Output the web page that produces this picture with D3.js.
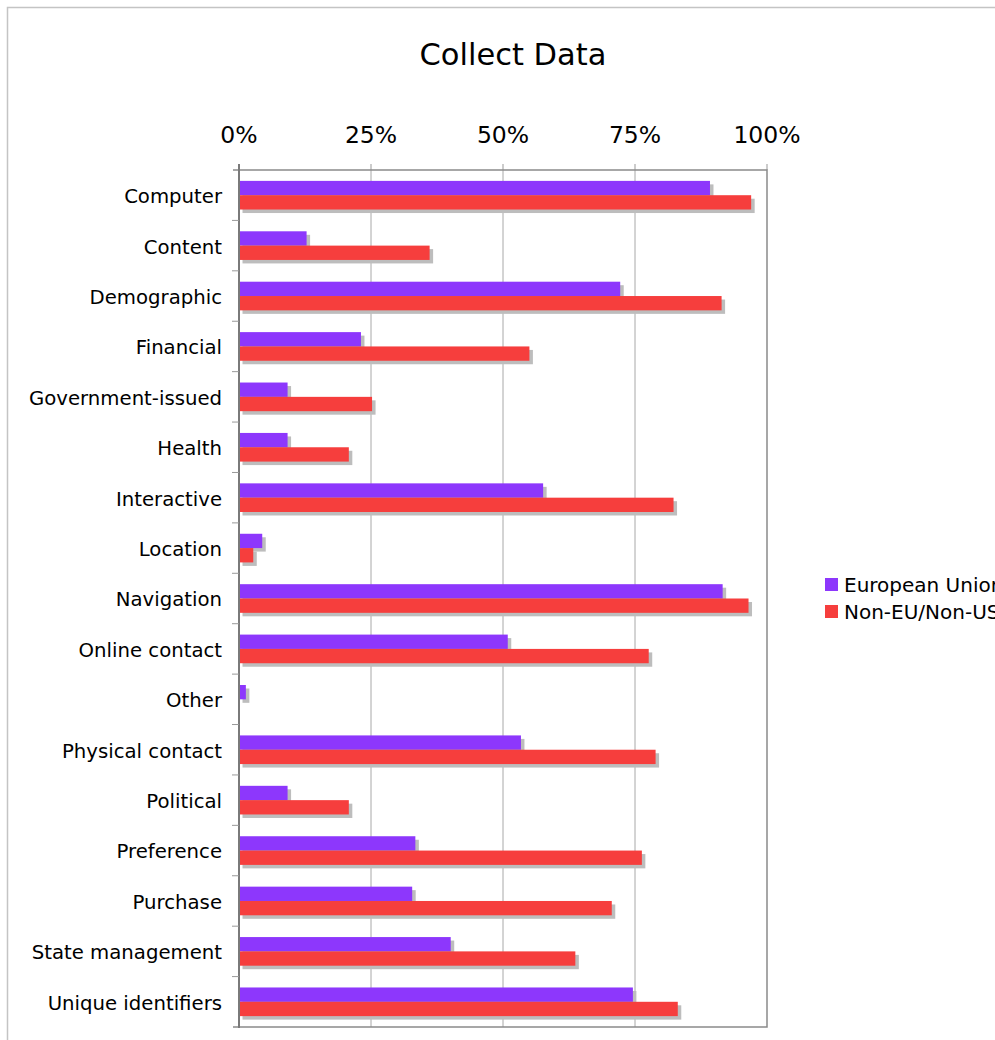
<!DOCTYPE html>
<html>
<head>
<meta charset="utf-8">
<script src="https://cdn.jsdelivr.net/npm/d3@7/dist/d3.min.js"></script>
<style>
  html, body { margin: 0; padding: 0; background: #fff; overflow: hidden; }
  svg { display: block; font-family: "DejaVu Sans", Verdana, sans-serif; }
</style>
</head>
<body>
<svg id="chart" width="995" height="1040"></svg>
<script>
// Share of sites collecting each data type, by region
const categories = [
  "Computer", "Content", "Demographic", "Financial", "Government-issued",
  "Health", "Interactive", "Location", "Navigation", "Online contact",
  "Other", "Physical contact", "Political", "Preference", "Purchase",
  "State management", "Unique identifiers"
];
const seriesNames = ["European Union", "Non-EU/Non-US"];
const euValues    = [89.2, 12.8, 72.2, 23.1, 9.2, 9.2, 57.6, 4.4, 91.6, 50.9, 1.3, 53.4, 9.2, 33.4, 32.8, 40.1, 74.6];
const nonEuValues = [97.0, 36.1, 91.4, 55.0, 25.2, 20.8, 82.3, 2.7, 96.5, 77.6, 0.0, 78.9, 20.8, 76.3, 70.6, 63.7, 83.1];
const xTicks = [0, 25, 50, 75, 100];
const colors = ["#8d37fc", "#f63e3d"];

const svg = d3.select("#chart");

const plot = { left: 239, right: 767, top: 170, bottom: 1027 };

// Outer frame
svg.append("rect")
  .attr("x", 7.5).attr("y", 7.5)
  .attr("width", 1100).attr("height", 1100)
  .attr("fill", "none").attr("stroke", "#c4c4c4").attr("stroke-width", 1.5);

// Title
svg.append("text")
  .attr("x", 513).attr("y", 65)
  .attr("text-anchor", "middle")
  .attr("font-size", 30.5)
  .attr("fill", "#000")
  .text("Collect Data");

const x = d3.scaleLinear().domain([0, 100]).range([plot.left, plot.right]);
const y = d3.scaleBand().domain(categories).range([plot.top, plot.bottom]).padding(0);
const ySub = d3.scaleBand().domain(seriesNames).range([0, y.bandwidth()]).paddingInner(0).paddingOuter(0.76);

// Vertical gridlines
svg.append("g")
  .selectAll("line")
  .data(xTicks.slice(1, -1))
  .join("line")
  .attr("x1", d => x(d)).attr("x2", d => x(d))
  .attr("y1", plot.top).attr("y2", plot.bottom)
  .attr("stroke", "#a8a8a8").attr("stroke-width", 1);

// Top axis ticks and labels
const xAxis = svg.append("g");
xAxis.selectAll("line")
  .data(xTicks)
  .join("line")
  .attr("x1", d => x(d)).attr("x2", d => x(d))
  .attr("y1", plot.top - 6).attr("y2", plot.top)
  .attr("stroke", "#999").attr("stroke-width", 1);
xAxis.selectAll("text")
  .data(xTicks)
  .join("text")
  .attr("x", d => x(d)).attr("y", 143)
  .attr("text-anchor", "middle")
  .attr("font-size", 23.5)
  .attr("fill", "#000")
  .text(d => d + "%");

// Bars with drop shadows
const defs = svg.append("defs");
defs.append("filter").attr("id", "soft")
  .attr("x", "-10%").attr("y", "-50%").attr("width", "120%").attr("height", "200%")
  .append("feGaussianBlur").attr("stdDeviation", 0.7);

const rows = categories.map((c, i) => ({
  cat: c,
  vals: [euValues[i], nonEuValues[i]]
}));

const groups = svg.append("g")
  .selectAll("g")
  .data(rows)
  .join("g")
  .attr("transform", d => `translate(0,${y(d.cat)})`);

seriesNames.forEach((s, si) => {
  groups.filter(d => d.vals[si] > 0)
    .append("rect")
    .attr("x", x(0) + 3.5)
    .attr("y", ySub(s) + 3.5)
    .attr("width", d => x(d.vals[si]) - x(0))
    .attr("height", ySub.bandwidth())
    .attr("fill", "#bdbdbd")
    .attr("filter", "url(#soft)");
  groups.filter(d => d.vals[si] > 0)
    .append("rect")
    .attr("x", x(0))
    .attr("y", ySub(s))
    .attr("width", d => x(d.vals[si]) - x(0))
    .attr("height", ySub.bandwidth())
    .attr("fill", colors[si]);
});

// Plot border (top, right, bottom)
svg.append("path")
  .attr("d", `M${plot.left - 6},${plot.top}H${plot.right}V${plot.bottom}H${plot.left - 6}`)
  .attr("fill", "none").attr("stroke", "#8a8a8a").attr("stroke-width", 1.5);

// Left axis line with category ticks
svg.append("line")
  .attr("x1", plot.left).attr("x2", plot.left)
  .attr("y1", plot.top - 6).attr("y2", plot.bottom + 1)
  .attr("stroke", "#7a7a7a").attr("stroke-width", 2);

const boundaries = categories.slice(1).map(c => y(c));
svg.append("g")
  .selectAll("line")
  .data(boundaries)
  .join("line")
  .attr("x1", plot.left - 7).attr("x2", plot.left)
  .attr("y1", d => d).attr("y2", d => d)
  .attr("stroke", "#999").attr("stroke-width", 1);

// Category labels
svg.append("g")
  .selectAll("text")
  .data(categories)
  .join("text")
  .attr("x", 222)
  .attr("y", d => y(d) + y.bandwidth() / 2 + 1)
  .attr("dy", "0.35em")
  .attr("text-anchor", "end")
  .attr("font-size", 19.7)
  .attr("fill", "#000")
  .text(d => d);

// Legend (runs past the right edge of the frame)
const legend = svg.append("g").attr("transform", "translate(825,578)");
seriesNames.forEach((s, i) => {
  legend.append("rect")
    .attr("x", 0).attr("y", i * 27)
    .attr("width", 13).attr("height", 13)
    .attr("fill", colors[i]);
  legend.append("text")
    .attr("x", 19).attr("y", i * 27 + 14)
    .attr("font-size", 20)
    .attr("fill", "#000")
    .text(s);
});
</script>
</body>
</html>
